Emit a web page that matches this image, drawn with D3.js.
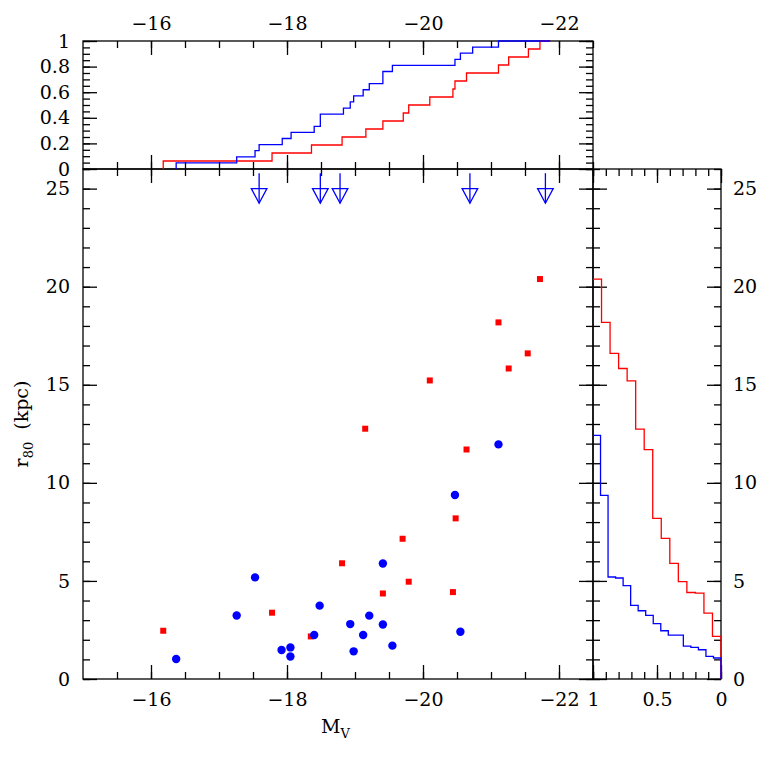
<!DOCTYPE html>
<html>
<head>
<meta charset="utf-8">
<script src="https://cdn.jsdelivr.net/npm/d3@7"></script>
<style>
  body { margin: 0; background: #fff; }
</style>
</head>
<body>
<div id="chart"></div>
<script>
// scatter points: M_V and r80 (kpc)
var redMv  = [-16.18, -17.78, -18.35, -18.81, -19.15, -19.41, -19.70, -19.79, -20.10, -20.44, -20.48, -20.64, -21.11, -21.26, -21.54, -21.72];
var redR   = [  2.46,   3.38,   2.17,   5.90,  12.76,   4.36,   7.15,   4.96,  15.22,   4.43,   8.19,  11.70,  18.18,  15.83,  16.60,  20.39];
var blueMv = [-16.37, -17.26, -17.53, -17.92, -18.05, -18.05, -18.40, -18.48, -18.93, -18.98, -19.12, -19.21, -19.41, -19.41, -19.55, -20.47, -20.55, -21.11];
var blueR  = [  1.02,   3.24,   5.18,   1.48,   1.61,   1.15,   2.24,   3.74,   2.80,   1.41,   2.24,   3.23,   5.89,   2.78,   1.70,   9.38,   2.41,  11.96];

// lower limits shown as arrows
var limitMv = [-17.59, -18.49, -18.78, -20.69, -21.80];
var limitR  = [25, 25, 25, 25, 25];

// top panel: cumulative distributions in M_V (sorted)
var cumRedMv  = [-16.18, -17.78, -18.36, -18.81, -19.16, -19.41, -19.71, -19.79, -20.10, -20.44, -20.47, -20.64, -21.11, -21.26, -21.55, -21.72];
var cumBlueMv = [-16.37, -17.26, -17.53, -17.59, -17.93, -18.06, -18.40, -18.49, -18.49, -18.83, -18.93, -18.98, -19.12, -19.21, -19.41, -19.41, -19.55, -20.47, -20.55, -20.73, -21.11];
var cumEndMv = -21.87;

// right panel: cumulative distributions in r80 (sorted, largest first)
var cumRedR  = [20.39, 18.18, 16.60, 15.83, 15.20, 12.74, 11.69, 8.19, 7.17, 5.89, 4.96, 4.41, 4.38, 3.36, 2.17];
var cumBlueR = [12.42, 9.36, 5.20, 5.15, 4.76, 3.75, 3.48, 3.24, 2.82, 2.46, 2.24, 2.24, 1.68, 1.61, 1.49, 1.15, 1.07];

// tick labels
var mvTicks = [-16, -18, -20, -22];
var rTicks = [0, 5, 10, 15, 20, 25];
var fracTicks = [0, 0.2, 0.4, 0.6, 0.8, 1];
var sideTicks = [1, 0.5, 0];

var width = 761, height = 761;
var x0 = 83, x1 = 593, x2 = 721;
var yTop = 41, yMid = 169, yBot = 679;
var font = "'DejaVu Serif', serif";
var red = "#ff0000", blue = "#0000ff";

var svg = d3.select("#chart")
    .append("svg")
    .attr("width", width)
    .attr("height", height)
    .style("background-color", "#fff");

var x = d3.scaleLinear().domain([-15, -22.5]).range([x0, x1]);
var y = d3.scaleLinear().domain([0, 26]).range([yBot, yMid]);
var f = d3.scaleLinear().domain([0, 1]).range([yMid, yTop]);
var p = d3.scaleLinear().domain([1, 0]).range([x1, x2]);

var mvMinor = d3.range(-15.5, -22.51, -0.5);
var rMinor = d3.range(0, 26.01, 1);
var fracMinor = d3.range(0, 1.001, 0.05);
var sideMinor = d3.range(0, 1.001, 0.1);

function addAxis(tx, ty, axisFn, scale, minor, major, pad, fmt) {
    var g = svg.append("g").attr("transform", "translate(" + tx + "," + ty + ")");
    g.append("g").call(axisFn(scale).tickValues(minor).tickSize(-7).tickFormat(""));
    g.append("g").call(axisFn(scale).tickValues(major).tickSize(-14).tickPadding(pad)
        .tickFormat(fmt ? fmt : ""));
    g.selectAll(".domain").remove();
    g.selectAll("line").attr("stroke", "#000").attr("stroke-width", 1.3);
    g.selectAll("text")
        .style("font-family", font)
        .style("font-size", "19px")
        .attr("fill", "#000");
}

var fmtNum = d3.format("");

// top panel axes
addAxis(0, yTop, d3.axisTop, x, mvMinor, mvTicks, 11, d3.format("d"));
addAxis(0, yMid, d3.axisBottom, x, mvMinor, mvTicks, 0, null);
addAxis(x0, 0, d3.axisLeft, f, fracMinor, fracTicks, 13, fmtNum);
addAxis(x1, 0, d3.axisRight, f, fracMinor, fracTicks, 0, null);

// main panel axes
addAxis(0, yMid, d3.axisTop, x, mvMinor, mvTicks, 0, null);
addAxis(0, yBot, d3.axisBottom, x, mvMinor, mvTicks, 14, d3.format("d"));
addAxis(x0, 0, d3.axisLeft, y, rMinor, rTicks, 13, d3.format("d"));
addAxis(x1, 0, d3.axisRight, y, rMinor, rTicks, 0, null);

// right panel axes
addAxis(0, yMid, d3.axisTop, p, sideMinor, sideTicks, 0, null);
addAxis(0, yBot, d3.axisBottom, p, sideMinor, sideTicks, 14, fmtNum);
addAxis(x1, 0, d3.axisLeft, y, rMinor, rTicks, 0, null);
addAxis(x2, 0, d3.axisRight, y, rMinor, rTicks, 12, d3.format("d"));

// frames
[[x0, yTop, x1, yMid], [x0, yMid, x1, yBot], [x1, yMid, x2, yBot]].forEach(function (b) {
    svg.append("rect")
        .attr("x", b[0]).attr("y", b[1])
        .attr("width", b[2] - b[0]).attr("height", b[3] - b[1])
        .attr("fill", "none")
        .attr("stroke", "#000")
        .attr("stroke-width", 1.3);
});

// cumulative step lines
function topSteps(vals) {
    var n = vals.length, pts = [[vals[0], 0]];
    vals.forEach(function (v, i) {
        if (i > 0) pts.push([v, i / n]);
        pts.push([v, (i + 1) / n]);
    });
    pts.push([cumEndMv, 1]);
    return pts;
}

function sideSteps(vals) {
    var n = vals.length, pts = [[1, vals[0]]];
    vals.forEach(function (v, i) {
        if (i > 0) pts.push([1 - i / n, v]);
        pts.push([1 - (i + 1) / n, v]);
    });
    pts.push([0, 0]);
    return pts;
}

var topLine = d3.line().x(function (d) { return x(d[0]); }).y(function (d) { return f(d[1]); });
var sideLine = d3.line().x(function (d) { return p(d[0]); }).y(function (d) { return y(d[1]); });

[[cumRedMv, red], [cumBlueMv, blue]].forEach(function (s) {
    svg.append("path")
        .attr("d", topLine(topSteps(s[0])))
        .attr("fill", "none")
        .attr("stroke", s[1])
        .attr("stroke-width", 1.3);
});

[[cumRedR, red], [cumBlueR, blue]].forEach(function (s) {
    svg.append("path")
        .attr("d", sideLine(sideSteps(s[0])))
        .attr("fill", "none")
        .attr("stroke", s[1])
        .attr("stroke-width", 1.3);
});

// scatter
svg.selectAll("rect.red")
    .data(redMv)
    .enter().append("rect")
    .attr("class", "red")
    .attr("x", function (d) { return x(d) - 3; })
    .attr("y", function (d, i) { return y(redR[i]) - 3; })
    .attr("width", 6)
    .attr("height", 6)
    .attr("fill", red);

svg.selectAll("circle.blue")
    .data(blueMv)
    .enter().append("circle")
    .attr("class", "blue")
    .attr("cx", function (d) { return x(d); })
    .attr("cy", function (d, i) { return y(blueR[i]); })
    .attr("r", 4.2)
    .attr("fill", blue);

// lower-limit arrows
limitMv.forEach(function (m, i) {
    var cx = x(m), cy = y(limitR[i]);
    svg.append("line")
        .attr("x1", cx).attr("x2", cx)
        .attr("y1", cy - 15.4).attr("y2", cy + 14.6)
        .attr("stroke", blue).attr("stroke-width", 1.3);
    svg.append("path")
        .attr("d", "M" + (cx - 7.8) + "," + cy + "L" + (cx + 7.8) + "," + cy + "L" + cx + "," + (cy + 14.6) + "Z")
        .attr("fill", "none")
        .attr("stroke", blue)
        .attr("stroke-width", 1.3);
});

// axis titles
var xt = svg.append("text")
    .attr("x", 321)
    .attr("y", 733)
    .style("font-family", font)
    .style("font-size", "19px")
    .text("M");
xt.append("tspan")
    .attr("dy", 5)
    .style("font-size", "13px")
    .text("V");

var yt = svg.append("text")
    .attr("text-anchor", "middle")
    .attr("transform", "translate(28," + ((yMid + yBot) / 2) + ") rotate(-90)")
    .style("font-family", font)
    .style("font-size", "19px")
    .text("r");
yt.append("tspan")
    .attr("dy", 5)
    .style("font-size", "13px")
    .text("80");
yt.append("tspan")
    .attr("dy", -5)
    .attr("xml:space", "preserve")
    .text("\u00a0 (kpc)");
</script>
</body>
</html>
